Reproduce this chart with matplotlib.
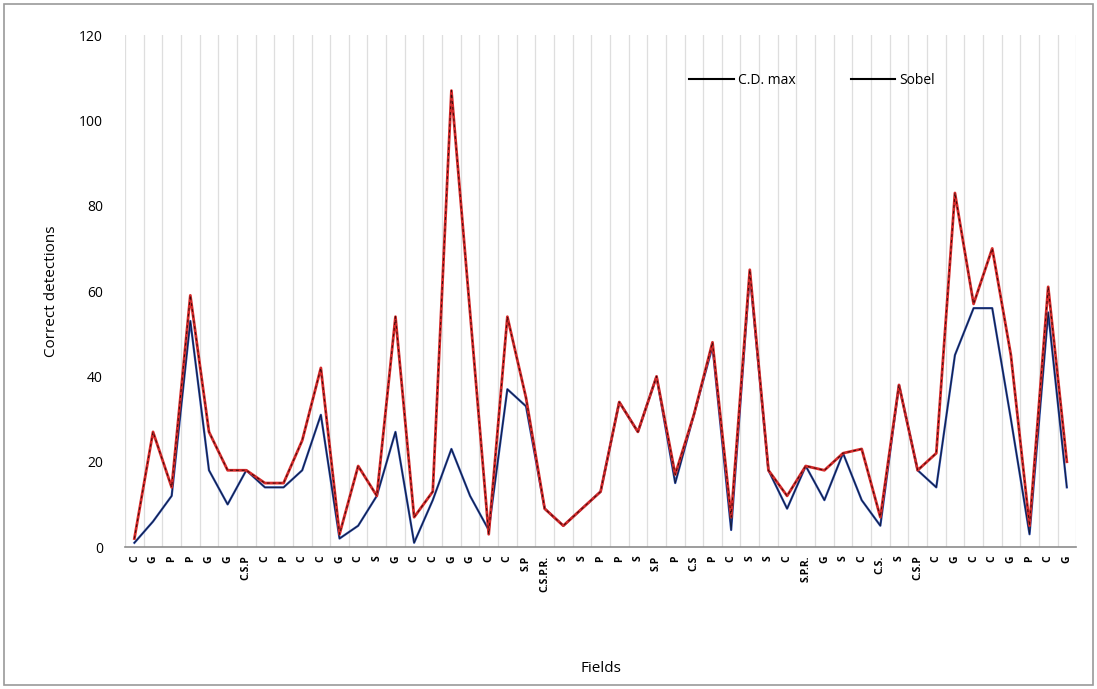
import matplotlib
matplotlib.use("Agg")
import matplotlib.pyplot as plt
import numpy as np
from matplotlib.lines import Line2D
from matplotlib.patches import Rectangle

fields = ["C", "G", "P", "P", "G", "G", "C.S.P", "C", "P", "C", "C", "G", "C", "S", "G",
          "C", "C", "G", "G", "C", "C", "S.P", "C.S.P.R.", "S", "S", "P", "P", "S", "S.P",
          "P", "C.S", "P", "C", "S", "S", "C", "S.P.R.", "G", "S", "C", "C.S.", "S",
          "C.S.P", "C", "G", "C", "C", "G", "P", "C", "G"]

cd_max = [2, 27, 14, 59, 27, 18, 18, 15, 15, 25, 42, 3, 19, 12, 54, 7, 13, 107, 55, 3,
          54, 35, 9, 5, 9, 13, 34, 27, 40, 17, 31, 48, 7, 65, 18, 12, 19, 18, 22, 23,
          7, 38, 18, 22, 83, 57, 70, 45, 5, 61, 20]

sobel = [1, 6, 12, 53, 18, 10, 18, 14, 14, 18, 31, 2, 5, 12, 27, 1, 11, 23, 12, 4,
         37, 33, 9, 5, 9, 13, 34, 27, 40, 15, 31, 47, 4, 64, 18, 9, 19, 11, 22, 11,
         5, 38, 18, 14, 45, 56, 56, 30, 3, 55, 14]

yticks = [0, 20, 40, 60, 80, 100, 120]

plt.rcParams['font.family'] = ['Open Sans', 'DejaVu Sans']

fig = plt.figure(figsize=(10.97, 6.89), dpi=100)
ax = fig.add_axes([0.114, 0.206, 0.867, 0.743])

x = np.arange(len(fields))
ax.plot(x, cd_max, color='#d42a2a', lw=2.0, zorder=3)
ax.plot(x, cd_max, color='#3a0a0a', lw=0.7, dashes=(3, 3), zorder=4)
ax.plot(x, sobel, color='#2a4aa8', lw=1.6, zorder=2)
ax.plot(x, sobel, color='#101830', lw=0.6, zorder=2.5)

ax.set_xlim(-0.5, len(fields) - 0.5)
ax.set_ylim(0, 120)
ax.set_yticks(yticks)
ax.set_yticklabels([str(v) for v in yticks], fontsize=10)
ax.set_xticks(x)
ax.set_xticklabels(fields, rotation=90, fontsize=7.5, fontweight='bold')
ax.set_xticks(np.arange(-0.5, len(fields), 1), minor=True)
ax.grid(True, which='minor', axis='x', color='#dedede', lw=0.9)
ax.grid(False, which='major')
ax.tick_params(axis='both', which='both', length=0)
ax.tick_params(axis='y', pad=16)
ax.tick_params(axis='x', pad=6)
for s in ['top', 'right', 'left']:
    ax.spines[s].set_visible(False)
ax.spines['bottom'].set_color('#8c8c8c')
ax.spines['bottom'].set_linewidth(1.2)

ax.set_ylabel("Correct detections", fontsize=11, labelpad=14)
ax.set_xlabel("Fields", fontsize=11, labelpad=50)

handles = [Line2D([0], [0], color='black', lw=1.5), Line2D([0], [0], color='black', lw=1.5)]
ax.legend(handles, ["C.D. max", "Sobel"], loc='center left', bbox_to_anchor=(0.58, 0.912),
          ncol=2, frameon=False, fontsize=10, handlelength=3.2, handletextpad=0.3,
          columnspacing=4.0)

fig.patches.append(Rectangle((0.004, 0.006), 0.992, 0.988, transform=fig.transFigure,
                             fill=False, edgecolor='#9a9a9a', lw=1.2))

fig.savefig("out.png", dpi=100)
